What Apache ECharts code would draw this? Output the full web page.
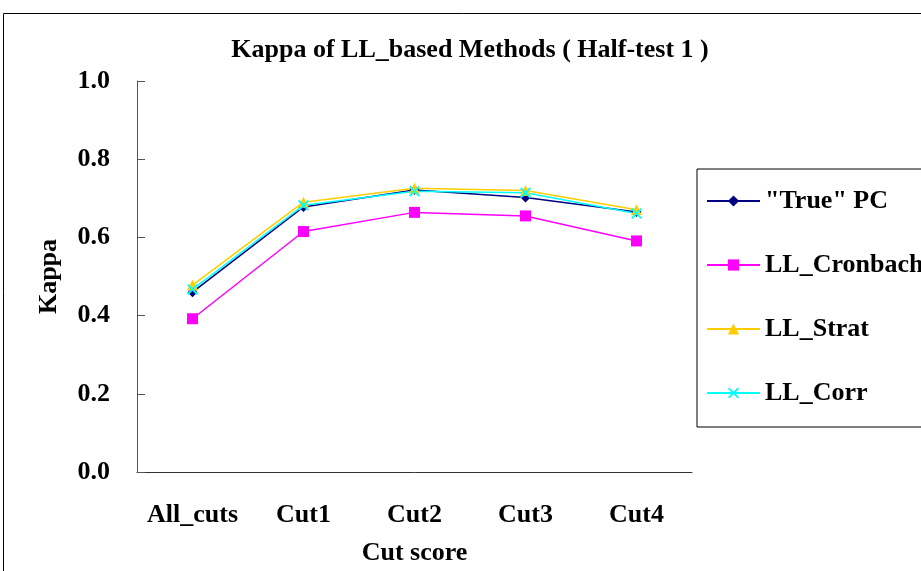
<!DOCTYPE html>
<html>
<head>
<meta charset="utf-8">
<script src="https://cdn.jsdelivr.net/npm/echarts@6/dist/echarts.min.js"></script>
<style>html,body{margin:0;padding:0;background:#fff;}#c{width:921px;height:571px;}</style>
</head>
<body>
<div id="c"></div>
<script>
var categories = ['All_cuts', 'Cut1', 'Cut2', 'Cut3', 'Cut4'];
var truePC = [0.460, 0.678, 0.721, 0.702, 0.665];
var llCronbach = [0.392, 0.615, 0.664, 0.655, 0.591];
var llStrat = [0.478, 0.690, 0.726, 0.720, 0.671];
var llCorr = [0.467, 0.682, 0.718, 0.714, 0.661];
var yTicks = [0, 0.2, 0.4, 0.6, 0.8, 1.0];

var FONT = 'Liberation Serif';
var FS = 26;
var XPATH = 'path://M0,1.2L1.2,0L5,3.8L8.8,0L10,1.2L6.2,5L10,8.8L8.8,10L5,6.2L1.2,10L0,8.8L3.8,5Z';

var chart = echarts.init(document.getElementById('c'), null, {renderer: 'canvas'});
function mk(name, data, color, symbol, size) {
  return {
    name: name, type: 'line', data: data, symbol: symbol, symbolSize: size,
    lineStyle: {color: color, width: 1.5},
    itemStyle: {color: color},
    emphasis: {disabled: true},
    animation: false
  };
}
chart.setOption({
  animation: false,
  backgroundColor: '#fff',
  title: {
    text: 'Kappa of LL_based Methods ( Half-test 1 )',
    left: 465, top: 32, textAlign: 'center',
    textStyle: {fontFamily: FONT, fontWeight: 'bold', fontSize: 26, color: '#000'}
  },
  graphic: [{
    type: 'rect', shape: {x: 3.5, y: 13.5, width: 1200, height: 1200},
    style: {fill: 'none', stroke: '#000', lineWidth: 1}, silent: true, z: -1
  }],
  legend: {
    orient: 'vertical', left: 697, top: 169,
    padding: [19, 40, 21, 9],
    itemGap: 38, itemWidth: 53, itemHeight: 14,
    borderColor: '#000', borderWidth: 1, borderRadius: 0,
    textStyle: {fontFamily: FONT, fontWeight: 'bold', fontSize: FS, color: '#000', lineHeight: 26, padding: [0,0,0,0]},
    data: ['"True" PC', 'LL_Cronbach', 'LL_Strat', 'LL_Corr']
  },
  grid: {left: 137, right: 229, top: 81, bottom: 99, containLabel: false, outerBoundsMode: 'none'},
  xAxis: {
    type: 'category', data: categories, boundaryGap: true,
    name: 'Cut score', nameLocation: 'middle', nameGap: 68,
    nameTextStyle: {fontFamily: FONT, fontWeight: 'bold', fontSize: FS, color: '#000'},
    axisLine: {lineStyle: {color: '#333', width: 1}},
    axisTick: {inside: true, length: 8, interval: 0, lineStyle: {color: '#333'}},
    axisLabel: {fontFamily: FONT, fontWeight: 'bold', fontSize: FS, color: '#000', margin: 30, interval: 0, hideOverlap: false},
    splitLine: {show: false}
  },
  yAxis: {
    type: 'value', min: 0, max: 1, interval: 0.2,
    name: 'Kappa', nameLocation: 'middle', nameGap: 75, nameRotate: 90,
    nameTextStyle: {fontFamily: FONT, fontWeight: 'bold', fontSize: FS, color: '#000'},
    axisLine: {show: true, lineStyle: {color: '#555', width: 1}},
    axisTick: {show: true, inside: true, length: 8, lineStyle: {color: '#555'}},
    axisLabel: {fontFamily: FONT, fontWeight: 'bold', fontSize: FS, color: '#000', margin: 27,
      formatter: function (v) { return v.toFixed(1); }},
    splitLine: {show: false}
  },
  series: [
    mk('"True" PC', truePC, '#000080', 'diamond', 10),
    mk('LL_Cronbach', llCronbach, '#FF00FF', 'rect', 11),
    mk('LL_Strat', llStrat, '#FFCC00', 'triangle', 11),
    mk('LL_Corr', llCorr, '#00FFFF', XPATH, 11)
  ]
});
</script>
</body>
</html>
